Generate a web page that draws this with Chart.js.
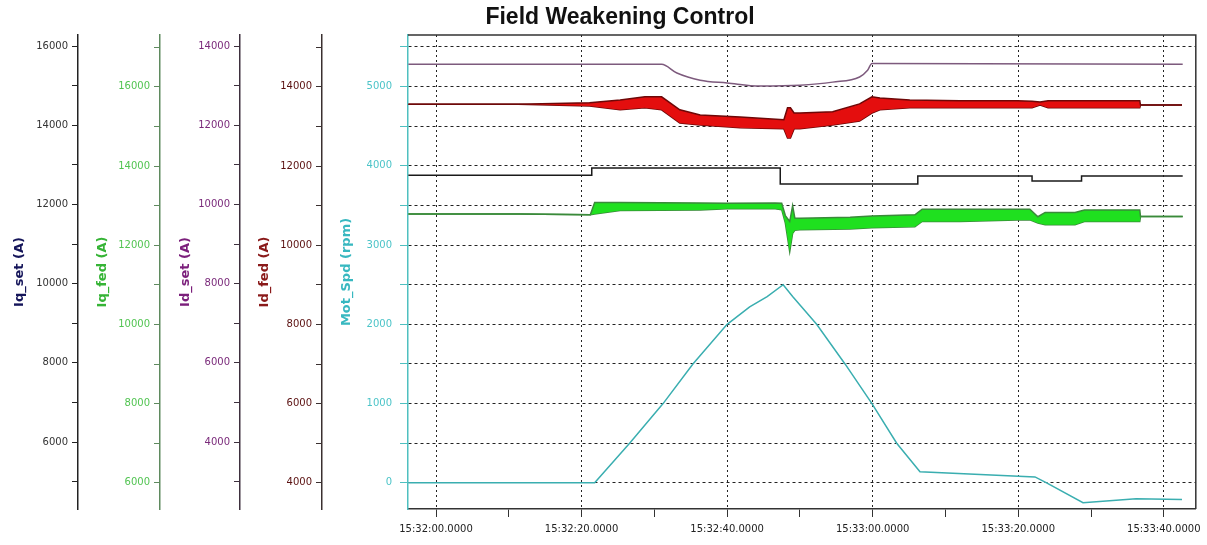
<!DOCTYPE html>
<html>
<head>
<meta charset="utf-8">
<title>Field Weakening Control</title>
<script src="https://cdn.jsdelivr.net/npm/chart.js@4.4.1/dist/chart.umd.min.js"></script>
<style>
    html, body { margin: 0; padding: 0; background: #fff; }
    #wrap { position: relative; width: 1207px; height: 545px; }
</style>
</head>
<body>
<div id="wrap"><canvas id="fwChart"></canvas></div>
<script>
// Time is seconds after 15:32:00
const xTickSecs = [0, 10, 20, 30, 40, 50, 60, 70, 80, 90, 100];

// tick positions of the five y axes
const iqSetTicks = [5000, 6000, 7000, 8000, 9000, 10000, 11000, 12000, 13000, 14000, 15000, 16000];
const iqFedTicks = [6000, 7000, 8000, 9000, 10000, 11000, 12000, 13000, 14000, 15000, 16000, 17000];
const idSetTicks = [3000, 4000, 5000, 6000, 7000, 8000, 9000, 10000, 11000, 12000, 13000, 14000];
const idFedTicks = [4000, 5000, 6000, 7000, 8000, 9000, 10000, 11000, 12000, 13000, 14000, 15000];
const spdTicks = [0, 500, 1000, 1500, 2000, 2500, 3000, 3500, 4000, 4500, 5000, 5500];

// Id_set (purple)
const idSetTime = [-3.8, 31.0, 33.1, 36.3, 40.0, 44.5, 50.0, 54.5, 58.2, 59.3, 59.9, 102.6];
const idSetVals = [13540, 13540, 13320, 13140, 13070, 12990, 13010, 13090, 13220, 13390, 13560, 13540];

// Id_fed (red, noisy band -> upper / lower envelope)
const idFedTime  = [-3.8, 11.3, 21.1, 25.3, 28.7, 31.0, 33.5, 36.3, 41.8, 47.8, 48.3, 48.7, 49.2, 50.0, 54.5, 58.2, 59.9, 61.0, 65.1, 72.0, 79.9, 81.9, 83.0, 84.1, 96.7, 96.8, 102.5];
const idFedUpper = [13560, 13560, 13600, 13670, 13750, 13750, 13420, 13290, 13240, 13170, 13470, 13470, 13340, 13340, 13370, 13570, 13750, 13720, 13670, 13650, 13650, 13640, 13620, 13650, 13650, 13540, 13540];
const idFedLower = [13560, 13560, 13520, 13420, 13470, 13420, 13090, 13040, 12970, 12940, 12710, 12710, 12940, 12940, 13040, 13140, 13340, 13420, 13470, 13470, 13470, 13470, 13540, 13470, 13470, 13540, 13540];

// Iq_set (black step line)
const iqSetTime = [-3.8, 21.4, 47.3, 66.2, 81.9, 88.7, 102.6];
const iqSetVals = [12740, 12920, 12520, 12720, 12590, 12720, 12720];

// Iq_fed (green, noisy band -> upper / lower envelope)
const iqFedTime  = [-3.8, 11.5, 21.2, 21.8, 25.3, 36.3, 40.0, 46.6, 47.5, 48.0, 48.6, 49.0, 49.3, 50.0, 56.9, 59.9, 65.8, 66.8, 72.0, 79.9, 81.6, 82.7, 83.7, 87.8, 89.1, 96.7, 96.8, 102.6];
const iqFedUpper = [12790, 12790, 12770, 13080, 13080, 13070, 13060, 13070, 13060, 12750, 12600, 13000, 12690, 12680, 12710, 12740, 12770, 12910, 12910, 12910, 12910, 12720, 12830, 12830, 12890, 12890, 12725, 12725];
const iqFedLower = [12790, 12790, 12770, 12790, 12880, 12890, 12920, 12920, 12900, 12560, 11840, 12300, 12380, 12390, 12410, 12440, 12470, 12600, 12600, 12640, 12640, 12560, 12520, 12520, 12600, 12600, 12725, 12725];

// Mot_Spd (rpm)
const spdTime = [-3.8, 21.8, 26.6, 31.2, 35.3, 40.0, 43.1, 45.5, 47.7, 49.0, 52.3, 56.2, 59.9, 63.3, 66.5, 82.3, 83.9, 88.9, 96.2, 102.5];
const spdVals = [0, 0, 500, 1000, 1500, 2000, 2220, 2350, 2500, 2350, 2000, 1500, 1000, 500, 140, 75, 0, -250, -200, -210];

function pts(times, vals) {
    return times.map((t, i) => ({ x: t, y: vals[i] }));
}

function clockLabel(sec) {
    const total = 15 * 3600 + 32 * 60 + sec;
    const h = Math.floor(total / 3600);
    const m = Math.floor((total % 3600) / 60);
    const s = total % 60;
    return h + ':' + m + ':' + String(s).padStart(2, '0') + '.0000';
}

// Chart.js spreads ticks evenly between min/max here, so set them ourselves
function fixedTicks(values) {
    return scale => {
        scale.ticks = values.map(v => ({ value: v }));
    };
}

const tickFont = { family: '"DejaVu Sans", sans-serif', size: 10 };
const titleFont = { family: '"DejaVu Sans", sans-serif', size: 13, weight: 'bold' };

function currentAxis(opts) {
    return {
        type: 'linear',
        position: 'left',
        weight: opts.weight,
        min: opts.min,
        max: opts.max,
        afterFit: s => { s.width = opts.width; },
        afterBuildTicks: fixedTicks(opts.ticks),
        border: { display: true, color: opts.lineColor, width: 1.5 },
        grid: { drawOnChartArea: false, tickLength: 6, tickColor: opts.lineColor },
        ticks: {
            autoSkip: false,
            source: 'data',
            padding: 4,
            color: opts.tickColor,
            font: tickFont,
            callback: v => (v % 2000 === 0 ? String(v) : '')
        },
        title: {
            display: true,
            text: opts.title,
            color: opts.titleColor,
            font: titleFont,
            padding: { top: opts.titlePad, bottom: 0 }
        }
    };
}

// plot frame (top + right) and title
const framePlugin = {
    id: 'frame',
    afterDraw(chart) {
        const { ctx, chartArea: a } = chart;
        ctx.save();
        ctx.strokeStyle = '#333';
        ctx.lineWidth = 1.5;
        ctx.beginPath();
        ctx.moveTo(a.left, a.top);
        ctx.lineTo(a.right, a.top);
        ctx.lineTo(a.right, a.bottom);
        ctx.stroke();
        ctx.font = 'bold 23px "Liberation Sans", Arial, sans-serif';
        ctx.fillStyle = '#111';
        ctx.textAlign = 'center';
        ctx.textBaseline = 'middle';
        ctx.fillText('Field Weakening Control', 620, 18);
        ctx.restore();
    }
};

const lineBase = { pointRadius: 0, borderWidth: 1.5, tension: 0 };

new Chart(document.getElementById('fwChart'), {
    type: 'line',
    data: {
        datasets: [
            {
                ...lineBase,
                label: 'Mot_Spd',
                data: pts(spdTime, spdVals),
                yAxisID: 'spd',
                borderColor: '#3aaeb0'
            },
            {
                ...lineBase,
                label: 'Iq_fed',
                data: pts(iqFedTime, iqFedUpper),
                yAxisID: 'iqFed',
                borderColor: '#3a8a3a',
                backgroundColor: '#1fe01f',
                fill: '+1'
            },
            {
                ...lineBase,
                label: 'Iq_fed low',
                data: pts(iqFedTime, iqFedLower),
                yAxisID: 'iqFed',
                borderColor: '#3a8a3a'
            },
            {
                ...lineBase,
                label: 'Iq_set',
                data: pts(iqSetTime, iqSetVals),
                yAxisID: 'iqSet',
                borderColor: '#1a1a1a',
                stepped: true
            },
            {
                ...lineBase,
                label: 'Id_fed',
                data: pts(idFedTime, idFedUpper),
                yAxisID: 'idFed',
                borderColor: '#6e0808',
                backgroundColor: '#e40e0e',
                fill: '+1'
            },
            {
                ...lineBase,
                label: 'Id_fed low',
                data: pts(idFedTime, idFedLower),
                yAxisID: 'idFed',
                borderColor: '#6e0808'
            },
            {
                ...lineBase,
                label: 'Id_set',
                data: pts(idSetTime, idSetVals),
                yAxisID: 'idSet',
                borderColor: '#7d5a7d',
                cubicInterpolationMode: 'monotone'
            }
        ]
    },
    options: {
        responsive: true,
        maintainAspectRatio: false,
        animation: false,
        layout: { padding: { left: 0, top: 35, right: 11, bottom: 0 } },
        plugins: {
            legend: { display: false },
            tooltip: { enabled: false },
            title: { display: false }
        },
        scales: {
            x: {
                type: 'linear',
                min: -3.85,
                max: 104.4,
                afterFit: s => { s.height = 36; },
                afterBuildTicks: fixedTicks(xTickSecs),
                border: { display: true, color: '#333', width: 1.5, dash: [2, 3] },
                grid: {
                    color: c => (c.tick && c.tick.value % 20 === 0 ? '#222' : 'rgba(0,0,0,0)'),
                    tickColor: '#333',
                    tickLength: 8
                },
                ticks: {
                    autoSkip: false,
                    source: 'data',
                    maxRotation: 0,
                    padding: 6,
                    color: '#222',
                    font: tickFont,
                    callback: v => (v % 20 === 0 ? clockLabel(v) : '')
                }
            },
            iqSet: currentAxis({
                weight: 5, min: 4310, max: 16280, width: 78, ticks: iqSetTicks,
                lineColor: '#222', tickColor: '#333', titleColor: '#15155a',
                title: 'Iq_set (A)', titlePad: 12
            }),
            iqFed: currentAxis({
                weight: 4, min: 5340, max: 17310, width: 82, ticks: iqFedTicks,
                lineColor: '#5f8a5f', tickColor: '#52c452', titleColor: '#36b436',
                title: 'Iq_fed (A)', titlePad: 17
            }),
            idSet: currentAxis({
                weight: 3, min: 2310, max: 14280, width: 80, ticks: idSetTicks,
                lineColor: '#3e303e', tickColor: '#7a2a7a', titleColor: '#7b1f7b',
                title: 'Id_set (A)', titlePad: 18
            }),
            idFed: currentAxis({
                weight: 2, min: 3340, max: 15310, width: 82, ticks: idFedTicks,
                lineColor: '#3a3030', tickColor: '#5a1010', titleColor: '#8a1a1a',
                title: 'Id_fed (A)', titlePad: 17
            }),
            spd: {
                type: 'linear',
                position: 'left',
                weight: 1,
                min: -330,
                max: 5650,
                afterFit: s => { s.width = 86; },
                afterBuildTicks: fixedTicks(spdTicks),
                border: { display: true, color: '#4fc0c0', width: 1.5, dash: [3, 3] },
                grid: {
                    drawOnChartArea: true,
                    color: '#222',
                    tickColor: '#4fc0c0',
                    tickLength: 8
                },
                ticks: {
                    autoSkip: false,
                    source: 'data',
                    padding: 8,
                    color: '#4cc4c8',
                    font: tickFont,
                    callback: v => (v % 1000 === 0 ? String(v) : '')
                },
                title: {
                    display: true,
                    text: 'Mot_Spd (rpm)',
                    color: '#38b8c0',
                    font: titleFont,
                    padding: { top: 17, bottom: 0 }
                }
            }
        }
    },
    plugins: [framePlugin]
});
</script>
</body>
</html>
